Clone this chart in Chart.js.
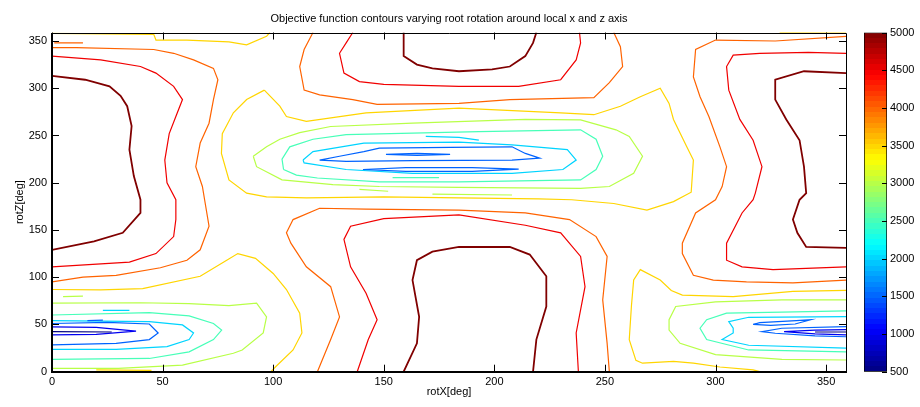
<!DOCTYPE html>
<html>
<head>
<meta charset="utf-8">
<script src="https://cdn.jsdelivr.net/npm/chart.js@4"></script>
<style>
  body { margin: 0; background: #fff; }
  #wrap { position: relative; width: 920px; height: 407px; }
  canvas { position: absolute; top: 0; }
</style>
</head>
<body>
<div id="wrap">
  <canvas id="main" width="920" height="407" style="left:0"></canvas>
  <canvas id="cbar" width="68" height="407" style="left:852px"></canvas>
</div>
<script>
const TITLE = "Objective function contours varying root rotation around local x and z axis";
const X_LABEL = "rotX[deg]";
const Y_LABEL = "rotZ[deg]";
const X_MIN = 0, X_MAX = 359;
const Y_MIN = 0, Y_MAX = 359;
const CBAR_MIN = 500, CBAR_MAX = 5000;
const CBAR_TICKS = [500, 1000, 1500, 2000, 2500, 3000, 3500, 4000, 4500, 5000];

// contour polylines, [rotX, rotZ] in degrees, grouped by level

// level 5000
const red5000Left = [[0,313],[15,309],[26,302],[31,292],[34,281],[36,260],[35,235],[37,207],[40,182],[40,168],[32,147],[19,138],[0,129]];
const red5000Right = [[359,316],[340,318],[327,309],[327,288],[332,267],[338,245],[340,217],[341,189],[338,182],[335,161],[337,147],[341,132],[359,131]];
const red5000Top = [[159,359],[159,334],[165,325],[172,321],[184,318],[199,320],[207,323],[214,334],[217.5,348],[219,359]];
const red5000Bottom = [[159,0],[165,30],[166,58],[163,97],[165,118],[172,127],[184,132],[207,132],[216,124],[223.5,101],[223.5,69],[219,34],[217.5,0]];

// level 4500
const c4500Left = [[0,334],[22,330],[40,323],[47,316],[55,302],[59,288],[56,270],[53,252],[51,224],[52,200],[56,182],[56,161],[55,143],[47,125],[35,116],[0,111]];
const c4500Right = [[359,337],[342,338],[320,337],[308,335],[305,323],[306,298],[311,267],[317,245],[321,217],[318,189],[317,182],[312,168],[305,136],[305,118],[312,111],[326,108],[359,111]];
const c4500Top = [[136,359],[133,348],[130,337],[132,316],[139,307],[150,304],[184,302],[211,302],[230,309],[237,330],[239,348],[238.5,359]];
const c4500Bottom = [[138,0],[143,34],[147,55],[142,83],[135,111],[132,140],[135,154],[150,162],[184,166],[214,155],[230,147],[239,122],[241,90],[237,41],[238,0]];

// level 4000
const c4000Left = [[0,95],[14,100],[29,102],[49,110],[61,118],[67,129],[71,154],[69,182],[68,196],[65,217],[67,242],[71,263],[73,288],[75,309],[73,321],[64,330],[55,337],[46,341],[11,343],[0,343]];
const c4000LeftDash = [[1,348],[14,348]];
const c4000Right = [[359,97],[335,94],[314,95],[299,97],[290,102],[285,125],[285,136],[291,168],[300,182],[303,196],[305,217],[302,238],[297,270],[293,291],[290,312],[291,341],[300,351],[327,350],[359,355]];
const c4000Top = [[118,359],[114,341],[112,323],[114,298],[121,293],[136,288],[147,283],[184,284],[207,288],[245,290],[252,306],[258,323],[257,344],[254,359]];
const c4000Bottom = [[120,0],[126,34],[130,58],[126,90],[115,111],[108,136],[106,147],[109,161],[121,173],[142,172],[184,171],[214,168],[234,161],[246,143],[251,122],[249,76],[251,30],[252,0]];

// level 3500
const c3500TopLeft = [[0,358],[46,357],[47,351],[61,351],[80,349],[88,346],[97,355],[98.5,359]];
const c3500TopRight = [[329,359],[359,358.5]];
const c3500Center = [[96,298],[88,288],[82,274],[77,252],[76.6,231],[80,203],[88,189],[97,185],[115,184],[150,185],[184,184],[220,183],[235,182],[254,178],[269,171],[281,180],[289,190],[290,224],[287,238],[281,267],[279,284],[275,300],[266,291],[257,281],[245,272],[230,274],[184,279],[142,274],[115,265],[106,270],[103,281],[96,298]];
const c3500LowLeft = [[0,87],[22,86.5],[41,88],[67,101],[79,118],[84,125],[92,120],[100,104],[106,87],[112,62],[113,41],[109,23],[101,5],[99,0]];
const c3500LowRight = [[359,86],[335,85],[308,79.5],[285,81],[280,86],[275,97],[266,108],[263,97],[262,70],[261,34],[264,12],[267,9],[281,11],[290,9],[302,5],[317,2],[320,0]];
const c3500Dash = [[20,2],[45,1.5]];

// level 3000
const c3000Center = [[91,228],[97,238],[103,246],[112,253],[126,259.5],[163,263],[214,267],[239,266.6],[255,256],[261,249],[267,228],[263,210],[252,196],[239,194],[184,195],[148,196],[127,198],[104,203],[92.5,217],[91,228]];
const c3000DashA = [[139,193],[152,191]];
const c3000DashB = [[172,188],[208,187]];
const c3000LowLeft = [[0,72.5],[40,73],[62,72],[80,70],[92.5,72.5],[97,58],[95.5,41],[86,23],[82,19.5],[59,7],[30,3.6],[0,3.6]];
const c3000DashC = [[5,79.5],[14,80]];
const c3000LowRight = [[359,76],[330,76],[300,74],[282,69],[279,55],[279,44],[284,30],[300,18],[330,13],[359,12.4]];

// level 2500
const c2500Center = [[104.7,214],[104,225],[107.5,238],[118,246],[133,251],[193,254],[239,256],[246,246],[249,228],[246,214],[239,203],[184,201],[148,201],[120,205],[110.5,208],[104.7,214]];
const c2500Dash = [[154,205.5],[175,205.5]];
const c2500LowLeft = [[0,60],[44,62.5],[62,59],[73,51],[76.7,44],[73,34],[62,21],[44,14],[0,13]];
const c2500LowRight = [[359,64.4],[330,63],[305,62],[296,55],[293,46],[296,34],[315,23],[359,21]];

// level 2000
const c2000Center = [[113.5,224],[118,233],[141,242],[184,243],[208,240],[233,235],[237,224],[231,214],[208,210],[163,210],[133,214],[114,221],[113.5,224]];
const c2000Dash = [[169,249],[184,248],[193,245]];
const c2000LowLeft = [[0,54],[44,53],[59,49.5],[64,41],[62,34],[52,26.5],[29,23.7],[0,23.7]];
const c2000DashLL = [[23,65],[35,65]];
const c2000LowRight = [[359,58.3],[315,57.6],[306,53],[308,46],[308,41],[303,34],[315,28],[359,25]];

// level 1500
const c1500CenterA = [[121,224],[130,228],[141,233],[148,236.6],[180,237.5],[208,238],[214,231],[220.5,226],[208,224],[163,223.5],[133,222.5],[121,224]];
const c1500CenterB = [[151,230],[165,231],[180,230],[165,229],[151,230]];
const c1500CenterC = [[140.6,214],[160,216],[190,216],[211,214.4],[190,212],[160,212],[140.6,214]];
const c1500LowLeft = [[0,51],[25,52.3],[44,50.5],[48,41],[44,34],[29,30],[0,28.3]];
const c1500DashLL = [[16,54],[23,54.5]];
const c1500LowRightA = [[317,50],[320,52],[336.5,54],[343,55],[336,50.5],[325,49],[317,50]];
const c1500LowRightB = [[359,47.7],[330,46],[321,42.4],[327,40.7],[345,38],[359,37]];

// level 1000
const c1000LowLeft = [[0,47.5],[20,47],[38,43],[20,39.5],[0,39]];
const c1000LowRight = [[359,44.5],[345,44],[331,42.4],[345,40],[359,39]];

// level 500
const c500LowLeft = [[0,42.5],[27,42]];
const c500LowRight = [[345,42],[359,42]];

const contourLevels = [
  [500, [c500LowLeft, c500LowRight]],
  [1000, [c1000LowLeft, c1000LowRight]],
  [1500, [c1500CenterA, c1500CenterB, c1500CenterC, c1500LowLeft, c1500DashLL, c1500LowRightA, c1500LowRightB]],
  [2000, [c2000Center, c2000Dash, c2000LowLeft, c2000DashLL, c2000LowRight]],
  [2500, [c2500Center, c2500Dash, c2500LowLeft, c2500LowRight]],
  [3000, [c3000Center, c3000DashA, c3000DashB, c3000LowLeft, c3000DashC, c3000LowRight]],
  [3500, [c3500TopLeft, c3500TopRight, c3500Center, c3500LowLeft, c3500LowRight, c3500Dash]],
  [4000, [c4000Left, c4000LeftDash, c4000Right, c4000Top, c4000Bottom]],
  [4500, [c4500Left, c4500Right, c4500Top, c4500Bottom]],
  [5000, [red5000Left, red5000Right, red5000Top, red5000Bottom]]
];

// matlab style jet colormap
function jet(t) {
  const c = v => Math.round(255 * Math.max(0, Math.min(1, v)));
  return `rgb(${c(1.5 - Math.abs(4 * t - 3))},${c(1.5 - Math.abs(4 * t - 2))},${c(1.5 - Math.abs(4 * t - 1))})`;
}
const levelColor = v => jet((v - CBAR_MIN) / (CBAR_MAX - CBAR_MIN));

Chart.defaults.font.family = '"Liberation Sans", Arial, Helvetica, sans-serif';
Chart.defaults.font.size = 11;
Chart.defaults.color = '#000';

const TICK = 7;

const frameTicks = {
  id: 'frameTicks',
  afterDatasetsDraw(chart) {
    const { ctx, chartArea: a, scales: { x, y } } = chart;
    ctx.save();
    ctx.strokeStyle = '#000';
    ctx.lineWidth = 1;
    ctx.beginPath();
    x.ticks.forEach(t => {
      const px = Math.round(x.getPixelForValue(t.value)) + 0.5;
      ctx.moveTo(px, a.bottom); ctx.lineTo(px, a.bottom - TICK);
      ctx.moveTo(px, a.top); ctx.lineTo(px, a.top + TICK);
    });
    y.ticks.forEach(t => {
      const py = Math.round(y.getPixelForValue(t.value)) + 0.5;
      ctx.moveTo(a.left, py); ctx.lineTo(a.left + TICK, py);
      ctx.moveTo(a.right, py); ctx.lineTo(a.right - TICK, py);
    });
    ctx.stroke();
    const l = Math.round(a.left), r = Math.round(a.right);
    const t = Math.round(a.top), b = Math.round(a.bottom);
    ctx.beginPath();
    ctx.moveTo(l, t + 0.5); ctx.lineTo(r + 0.5, t + 0.5); ctx.lineTo(r + 0.5, b);
    ctx.stroke();
    ctx.lineWidth = 2;
    ctx.beginPath();
    ctx.moveTo(l, t); ctx.lineTo(l, b); ctx.lineTo(r + 1, b);
    ctx.stroke();
    ctx.restore();
  }
};

const datasets = [];
contourLevels.forEach(([level, lines]) => {
  lines.forEach(line => {
    datasets.push({
      data: line.map(([x, y]) => ({ x, y })),
      showLine: true,
      borderColor: levelColor(level),
      borderWidth: level === 5000 ? 1.8 : 1.2,
      pointRadius: 0,
      fill: false,
      tension: 0
    });
  });
});

new Chart(document.getElementById('main'), {
  type: 'scatter',
  data: { datasets },
  options: {
    responsive: false,
    animation: false,
    events: [],
    layout: { padding: { left: 0, right: 74, top: 0, bottom: 0 } },
    plugins: {
      legend: { display: false },
      tooltip: { enabled: false },
      title: {
        display: true,
        text: TITLE,
        fullSize: false,
        color: '#000',
        font: { size: 11, weight: 'normal' },
        padding: { top: 12, bottom: 7.3 }
      }
    },
    scales: {
      x: {
        type: 'linear',
        min: X_MIN, max: X_MAX,
        ticks: { stepSize: 50, includeBounds: false, padding: 4, color: '#000' },
        grid: { display: false, drawTicks: false },
        border: { display: false },
        title: { display: true, text: X_LABEL, color: '#000', padding: { top: 0, bottom: 8 } },
        afterFit: s => { s.height = 35.3; }
      },
      y: {
        type: 'linear',
        min: Y_MIN, max: Y_MAX,
        ticks: { stepSize: 50, includeBounds: false, padding: 5, color: '#000' },
        grid: { display: false, drawTicks: false },
        border: { display: false },
        title: { display: true, text: Y_LABEL, color: '#000', padding: { top: 13, bottom: 0 } },
        afterFit: s => { s.width = 52; }
      }
    }
  },
  plugins: [frameTicks]
});

// colorbar
const cbarTicks = {
  id: 'cbarTicks',
  afterDatasetsDraw(chart) {
    const { ctx, chartArea: a, scales: { y } } = chart;
    ctx.save();
    ctx.strokeStyle = '#000';
    ctx.lineWidth = 1;
    ctx.beginPath();
    y.ticks.forEach(t => {
      const py = Math.round(y.getPixelForValue(t.value)) + 0.5;
      ctx.moveTo(a.right, py); ctx.lineTo(a.right - 5, py);
    });
    ctx.stroke();
    ctx.restore();
  }
};

function cbarFill(context) {
  const chart = context.chart;
  const y = chart.scales.y;
  if (!chart.chartArea || !y) return '#888';
  const g = chart.ctx.createLinearGradient(0, y.getPixelForValue(CBAR_MIN), 0, y.getPixelForValue(CBAR_MAX));
  const steps = 64;
  for (let i = 0; i < steps; i++) {
    const col = jet((i + 0.5) / steps);
    g.addColorStop(i / steps, col);
    g.addColorStop((i + 1) / steps, col);
  }
  return g;
}

new Chart(document.getElementById('cbar'), {
  type: 'bar',
  data: {
    labels: [''],
    datasets: [{
      data: [[CBAR_MIN, CBAR_MAX]],
      backgroundColor: cbarFill,
      borderColor: '#000',
      borderWidth: 1,
      borderSkipped: false,
      barPercentage: 1,
      categoryPercentage: 1
    }]
  },
  options: {
    responsive: false,
    animation: false,
    events: [],
    layout: { padding: { left: 12, right: 0, top: 32.5, bottom: 35.3 } },
    plugins: { legend: { display: false }, tooltip: { enabled: false } },
    scales: {
      x: { display: false },
      y: {
        position: 'right',
        min: CBAR_MIN, max: CBAR_MAX,
        afterBuildTicks: s => { s.ticks = CBAR_TICKS.map(v => ({ value: v })); },
        ticks: { padding: 3, color: '#000', callback: v => String(v) },
        grid: { display: false, drawTicks: false },
        border: { display: false },
        afterFit: s => { s.width = 33; }
      }
    }
  },
  plugins: [cbarTicks]
});
</script>
</body>
</html>
